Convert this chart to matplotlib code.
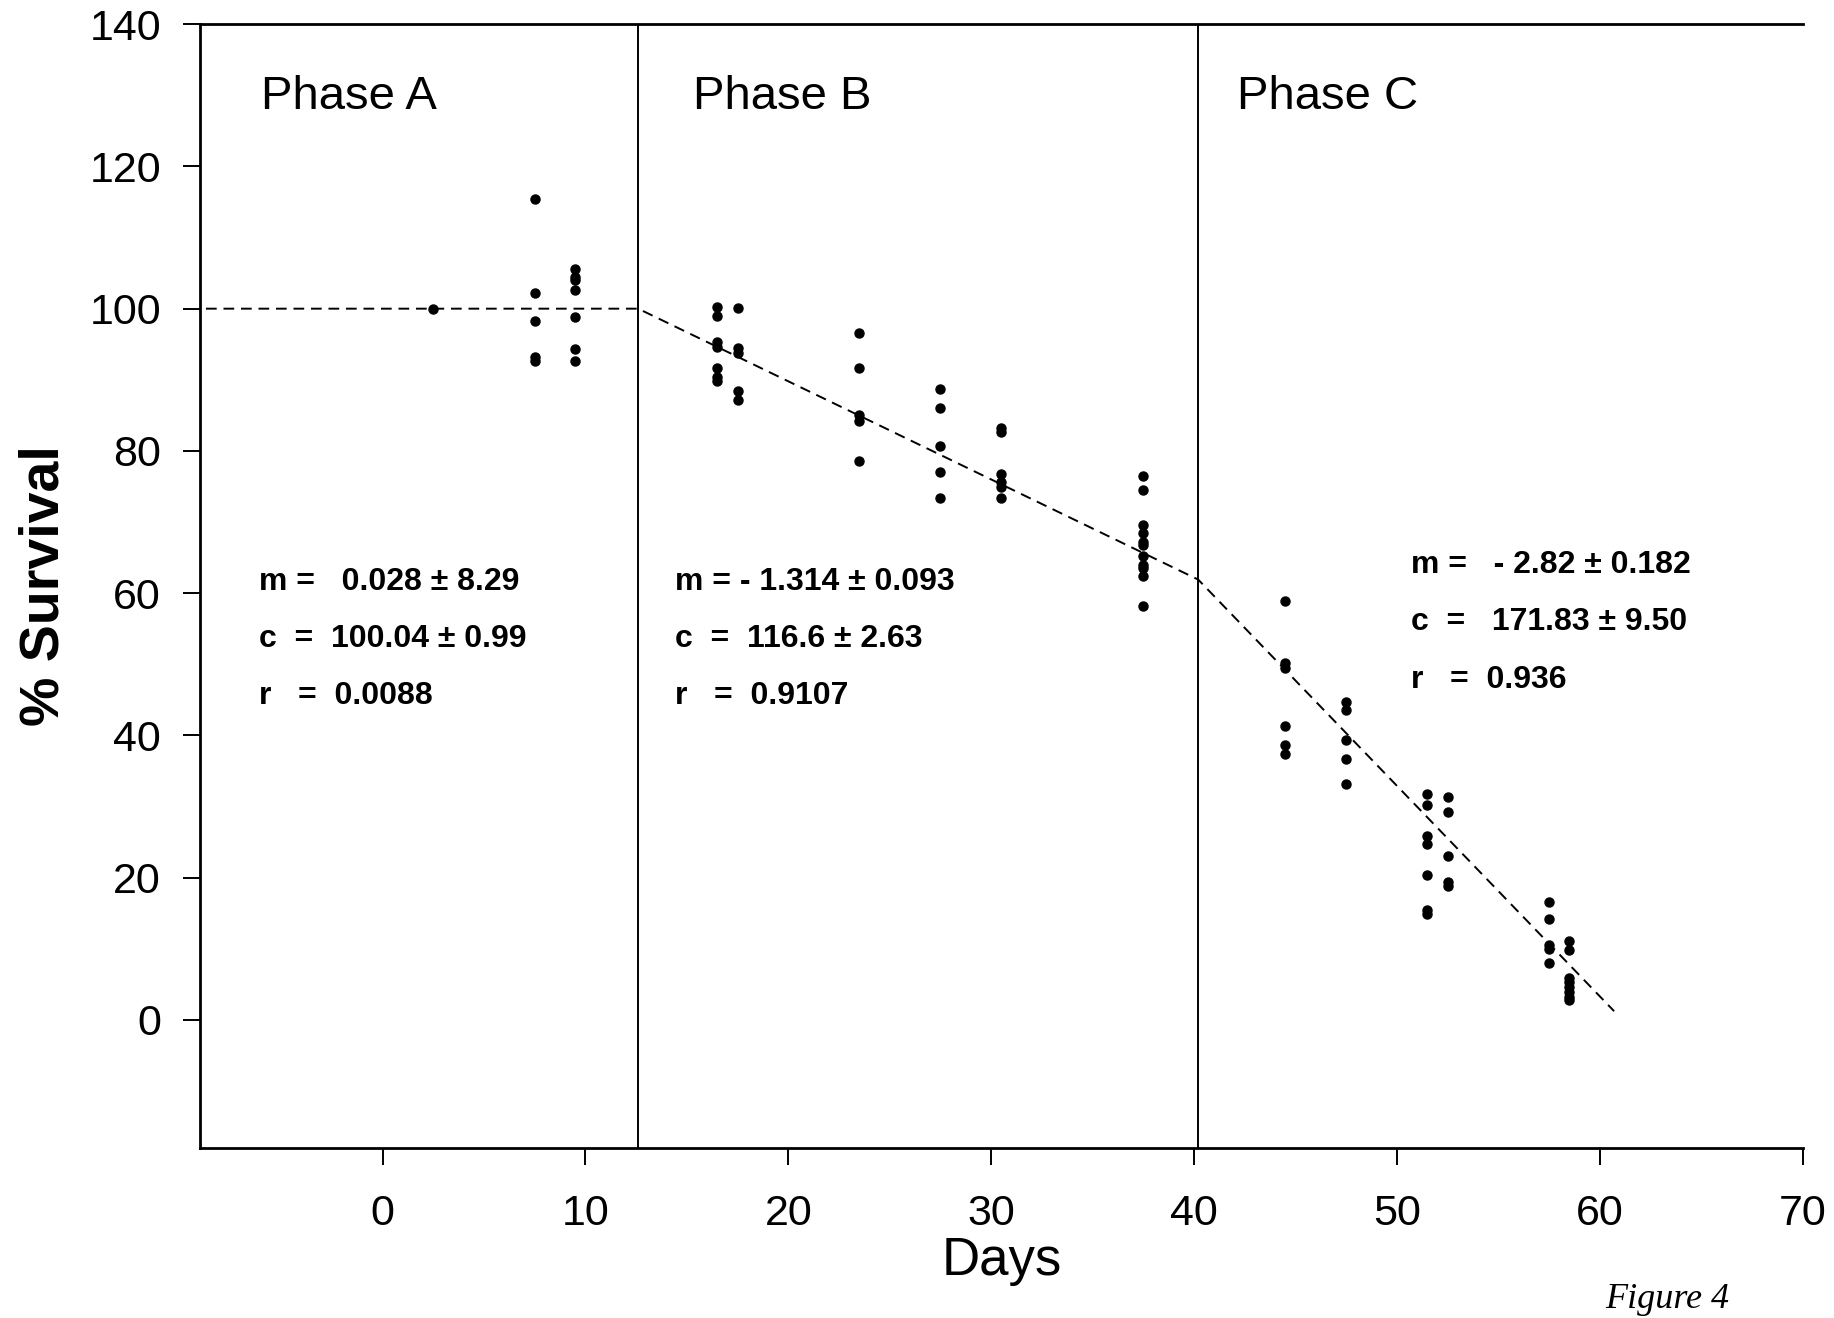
import matplotlib
matplotlib.use("Agg")
import matplotlib.pyplot as plt

plt.rcParams['font.family'] = ['Liberation Sans', 'DejaVu Sans']

# survival measurements, one list per sampling day
days = [2.5, 7.5, 9.5, 16.5, 17.5, 23.5, 27.5, 30.5, 37.5,
        44.5, 47.5, 51.5, 52.5, 57.5, 58.5]
survival = [
    [100.0],
    [115.4, 102.2, 98.2, 93.2, 92.7],
    [105.6, 104.4, 104.0, 102.6, 98.8, 94.3, 92.7],
    [100.2, 99.0, 95.3, 94.6, 91.7, 90.4, 89.8],
    [100.1, 94.4, 93.7, 88.4, 87.2],
    [96.6, 91.7, 85.0, 84.2, 78.6],
    [88.7, 86.1, 80.7, 77.1, 73.4],
    [83.2, 82.6, 76.8, 75.6, 74.9, 73.4],
    [76.4, 74.5, 69.6, 68.4, 67.2, 66.7, 65.2, 63.9, 63.5, 62.4, 58.2],
    [58.9, 50.2, 49.4, 41.3, 38.6, 37.4],
    [44.7, 43.6, 39.3, 36.7, 33.2],
    [31.7, 30.2, 25.8, 24.7, 20.4, 15.5, 14.8],
    [31.3, 29.2, 23.0, 19.4, 18.8],
    [16.5, 14.1, 10.5, 10.0, 8.0],
    [11.1, 9.8, 5.9, 5.3, 4.6, 3.9, 3.2, 2.8],
]

# fitted piecewise line (break points)
fit_x = [-8.7, 12.6, 40.2, 60.7]
fit_y = [100.0, 100.0, 61.9, 1.2]

# phase boundaries
phase_bounds = [12.6, 40.2]
phase_names = ["Phase A", "Phase B", "Phase C"]
phase_label_x = [-6.0, 15.3, 42.1]

fit_text = [
    ["m =   0.028 \u00b1 8.29", "c  =  100.04 \u00b1 0.99", "r   =  0.0088"],
    ["m = - 1.314 \u00b1 0.093", "c  =  116.6 \u00b1 2.63", "r   =  0.9107"],
    ["m =   - 2.82 \u00b1 0.182", "c  =   171.83 \u00b1 9.50", "r   =  0.936"],
]
fit_text_x = [-6.1, 14.4, 50.7]
fit_text_y = [[61.5, 53.6, 45.5], [61.5, 53.6, 45.5], [64.0, 56.0, 47.8]]

fig = plt.figure(figsize=(18.34, 13.18), dpi=100)
ax = fig.add_axes([0.109, 0.1292, 0.874, 0.8524])

for d, vals in zip(days, survival):
    ax.plot([d] * len(vals), vals, 'o', color='black', markersize=6.5,
            linestyle='none')

ax.plot(fit_x, fit_y, color='black', linewidth=1.4, linestyle=(0, (5.5, 3.5)))

for b in phase_bounds:
    ax.axvline(b, color='black', linewidth=1.4)

for name, px in zip(phase_names, phase_label_x):
    ax.text(px, 129.7, name, fontsize=34, ha='left', va='center')

for lines, tx, tys in zip(fit_text, fit_text_x, fit_text_y):
    for line, ty in zip(lines, tys):
        ax.text(tx, ty, line, fontsize=23, fontweight='bold',
                ha='left', va='center')

ax.set_xlim(-9, 70)
ax.set_ylim(-18, 140)
ax.set_xticks(range(0, 71, 10))
ax.set_yticks(range(0, 141, 20))
ax.tick_params(direction='out', length=12, width=1.4, labelsize=31, pad=16)
ax.tick_params(axis='x', pad=21)

ax.spines['right'].set_visible(False)
for s in ['left', 'bottom', 'top']:
    ax.spines[s].set_linewidth(2)

ax.set_xlabel('Days', fontsize=38, va='center')
ax.xaxis.set_label_coords(0.5, -0.101)
ax.set_ylabel('% Survival', fontsize=40, fontweight='bold', va='center')
ax.yaxis.set_label_coords(-0.097, 0.5)

fig.text(1667 / 1834, 1 - 1300 / 1318, 'Figure 4', fontsize=26,
         fontstyle='italic', family=['Liberation Serif', 'DejaVu Serif'],
         ha='center', va='center')

fig.savefig('out.png', dpi=100)
plt.close()
